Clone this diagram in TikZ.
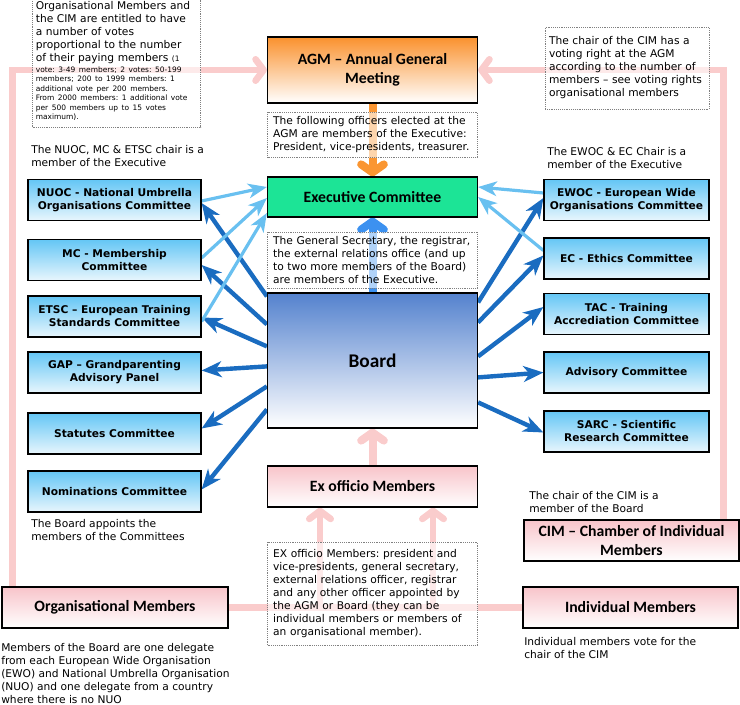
\documentclass[tikz,border=0pt]{standalone}
\usepackage{fontspec}
\setmainfont{DejaVu Sans}
\newfontfamily\calibri{Carlito}
\usetikzlibrary{calc}
\usetikzlibrary{positioning}
\usetikzlibrary{arrows.meta}
\usetikzlibrary{backgrounds}
\definecolor{boardblue}{RGB}{84,130,206}
\definecolor{combluetop}{RGB}{100,198,245}
\definecolor{combluebot}{RGB}{232,246,253}
\definecolor{execgreen}{RGB}{28,228,150}
\definecolor{agmorange}{RGB}{250,145,45}
\definecolor{memberpink}{RGB}{248,196,202}
\definecolor{pinkline}{RGB}{250,204,204}
\definecolor{darkarrow}{RGB}{26,108,192}
\definecolor{lightarrow}{RGB}{105,192,240}
\definecolor{upblue}{RGB}{60,145,240}
\definecolor{uporange}{RGB}{250,150,50}
\tikzstyle{combox} = [draw, line width=0.9pt, top color=combluetop, bottom color=combluebot, minimum height=30.75pt, align=center, font=\bfseries\fontsize{8}{9.75}\selectfont]
\tikzstyle{leftcom} = [combox, minimum width=129.75pt]
\tikzstyle{rightcom} = [combox, minimum width=123.75pt]
\tikzstyle{mainbox} = [draw, line width=0.9pt, minimum width=157.5pt, align=center, font=\calibri\bfseries\fontsize{11.8}{14.25}\selectfont]
\tikzstyle{pinkbox} = [mainbox, top color=memberpink, bottom color=white, minimum height=30.75pt]
\tikzstyle{notebox} = [draw=gray, densely dotted, fill=white, fill opacity=0.6, text opacity=1, align=left, font=\fontsize{8}{9.75}\selectfont]
\tikzstyle{plaintext} = [inner sep=0, anchor=north west, align=left, font=\fontsize{8}{9.75}\selectfont]
\tikzstyle{boardarrow} = [darkarrow, line width=3.3pt, -{Stealth[length=15pt,width=12pt,inset=4.5pt]}]
\tikzstyle{chairarrow} = [lightarrow, line width=2.4pt, -{Stealth[length=14pt,width=11pt,inset=4pt]}]
\tikzstyle{widearrow} = [line width=6pt, -{Straight Barb[length=6pt,width=17pt,round]}]
\tikzstyle{pinkconn} = [pinkline, line width=5pt]

\begin{document}
\frenchspacing
\begin{tikzpicture}[x=0.75pt, y=-0.75pt]
    \useasboundingbox (0,0) rectangle (740,705);

    \node[mainbox, top color=agmorange, bottom color=white, minimum height=49.5pt] (agm) at (372.5,70) {AGM – Annual General\\Meeting};
    \node[notebox, text width=149pt, inner xsep=4.25pt, minimum height=33pt] (agmnote) at ($(agm)+(0,65)$) {The following officers elected at the\\AGM are members of the Executive:\\President, vice-presidents, treasurer.};
    \node[mainbox, fill=execgreen, minimum height=30pt] (exec) at ($(agm)+(0,127)$) {Executive Committee};
    \node[notebox, text width=149pt, inner xsep=4.25pt, minimum height=42pt] (execnote) at ($(exec)+(0,63)$) {The General Secretary, the registrar,\\the external relations office (and up\\to two more members of the Board)\\are members of the Executive.};
    \node[mainbox, top color=boardblue, bottom color=white, minimum height=101.25pt, font=\calibri\bfseries\fontsize{14.5}{16}\selectfont] (board) at ($(exec)+(0,163.5)$) {Board};
    \node[pinkbox] (exoff) at ($(board)+(0,126)$) {Ex officio Members};
    \node[notebox, text width=149pt, inner xsep=4.25pt, minimum height=77.25pt] (exoffnote) at ($(exoff)+(0,107)$) {EX officio Members: president and\\vice-presidents, general secretary,\\external relations officer, registrar\\and any other officer appointed by\\the AGM or Board (they can be\\individual members or members of\\an organisational member).};

    % committees left
    \node[leftcom] (nuoc) at (114.5,200) {NUOC - National Umbrella\\Organisations Committee};
    \node[leftcom] (mc) at ($(nuoc)+(0,60)$) {MC - Membership\\Committee};
    \node[leftcom] (etsc) at ($(mc)+(0,56.5)$) {ETSC – European Training\\Standards Committee};
    \node[leftcom] (gap) at ($(etsc)+(0,56)$) {GAP – Grandparenting\\Advisory Panel};
    \node[leftcom] (statutes) at ($(gap)+(0,61)$) {Statutes Committee};
    \node[leftcom] (nominations) at ($(statutes)+(0,58)$) {Nominations Committee};

    % committees right
    \node[rightcom] (ewoc) at (626.5,200) {EWOC - European Wide\\Organisations Committee};
    \node[rightcom] (ec) at ($(ewoc)+(0,58.5)$) {EC - Ethics Committee};
    \node[rightcom] (tac) at ($(ec)+(0,55.5)$) {TAC - Training\\Accrediation Committee};
    \node[rightcom] (advisory) at ($(tac)+(0,58.5)$) {Advisory Committee};
    \node[rightcom] (sarc) at ($(advisory)+(0,59)$) {SARC - Scientific\\Research Committee};

    % members
    \node[pinkbox, minimum width=169.5pt] (org) at (115,607.5) {Organisational Members};
    \node[pinkbox, minimum width=161.25pt] (indiv) at (630.5,607.5) {Individual Members};
    \node[pinkbox, minimum width=161.25pt] (cim) at ($(indiv)+(1,-67)$) {CIM – Chamber of Individual\\Members};

    % notes and captions
    \node[notebox, text width=121pt, inner xsep=2.5pt, minimum height=97.5pt] (votenote) at (116.5,62) {Organisational Members and\\the CIM are entitled to have\\a number of votes\\proportional to the number\\of their paying members {\fontsize{5.6}{7}\selectfont(1}\\[-1.6pt]
      {\fontsize{5.6}{7.1}\selectfont\begin{tabular}[t]{@{}l@{}}vote: 3-49 members; 2 votes: 50-199\\members; 200 to 1999 members: 1\\additional vote per 200 members.\\From 2000 members: 1 additional vote\\per 500 members up to 15 votes\\maximum).\end{tabular}}};
    \node[notebox, text width=117pt, inner xsep=3pt, minimum height=61.5pt] (cimnote) at (627,68) {The chair of the CIM has a\\voting right at the AGM\\according to the number of\\members – see voting rights\\organisational members};
    \node[plaintext] (nuocchair) at (31,145) {The NUOC, MC \& ETSC chair is a\\member of the Executive};
    \node[plaintext] (ewocchair) at (547,147) {The EWOC \& EC Chair is a\\member of the Executive};
    \node[plaintext] (appoint) at (31,519) {The Board appoints the\\members of the Committees};
    \node[plaintext] (cimchair) at (529,491) {The chair of the CIM is a\\member of the Board};
    \node[plaintext] (delegates) at (1,643) {Members of the Board are one delegate\\from each European Wide Organisation\\(EWO) and National Umbrella Organisation\\(NUO) and one delegate from a country\\where there is no NUO};
    \node[plaintext] (indivvote) at (524,637) {Individual members vote for the\\chair of the CIM};

    \coordinate (leg_a) at (320,607.5);
    \coordinate (leg_b) at (433,607.5);

    \begin{pgfonlayer}{background}
    % membership lines
    \draw[pinkconn, -{Straight Barb[length=6pt,width=16pt,round]}] ($(org.north west)+(11,0)$) |- (agm.west);
    \draw[pinkconn, -{Straight Barb[length=6pt,width=16pt,round]}] ($(cim.north east)+(-16,0)$) |- (agm.east);
    \draw[pinkconn] (org.east) -- (indiv.west);
    \draw[pinkconn, -{Straight Barb[length=6pt,width=16pt,round]}] (leg_a) -- (leg_a |- exoff.south);
    \draw[pinkconn, -{Straight Barb[length=6pt,width=16pt,round]}] (leg_b) -- (leg_b |- exoff.south);
    \draw[widearrow, pinkline] (exoff.north) -- (board.south);

    \draw[widearrow, uporange] (agm.south) -- (exec.north);
    \draw[widearrow, upblue] (board.north) -- (exec.south);

    % board appoints
    \draw[boardarrow] ($(board.north west)+(0,4)$) -- ($(nuoc.east)+(0,3)$);
    \draw[boardarrow] ($(board.north west)+(0,32)$) -- ($(mc.east)+(0,5)$);
    \draw[boardarrow] ($(board.north west)+(0,54)$) -- ($(etsc.east)+(0,1)$);
    \draw[boardarrow] ($(board.north west)+(0,74)$) -- ($(gap.east)+(0,-2)$);
    \draw[boardarrow] ($(board.north west)+(0,94)$) -- ($(statutes.east)+(0,-5)$);
    \draw[boardarrow] ($(board.north west)+(0,117)$) -- ($(nominations.east)+(0,-2)$);
    \draw[boardarrow] ($(board.north east)+(0,10)$) -- ($(ewoc.west)+(0,-2)$);
    \draw[boardarrow] ($(board.north east)+(0,30)$) -- ($(ec.west)+(0,-3)$);
    \draw[boardarrow] ($(board.north east)+(0,64)$) -- ($(tac.west)+(0,-7)$);
    \draw[boardarrow] ($(board.north east)+(0,85)$) -- ($(advisory.west)+(0,0)$);
    \draw[boardarrow] ($(board.north east)+(0,110)$) -- ($(sarc.west)+(0,1)$);

    % chairs in the executive
    \draw[chairarrow] ($(nuoc.east)+(0,1)$) -- ($(exec.west)+(0,-10)$);
    \draw[chairarrow] ($(mc.east)+(0,-2)$) -- ($(exec.west)+(0,1)$);
    \draw[chairarrow] ($(etsc.east)+(0,5)$) -- ($(exec.west)+(0,16)$);
    \draw[chairarrow] ($(ewoc.west)+(0,-7)$) -- ($(exec.east)+(0,-10)$);
    \draw[chairarrow] ($(ec.west)+(0,-8)$) -- ($(exec.east)+(0,0)$);
    \end{pgfonlayer}
\end{tikzpicture}
\end{document}
